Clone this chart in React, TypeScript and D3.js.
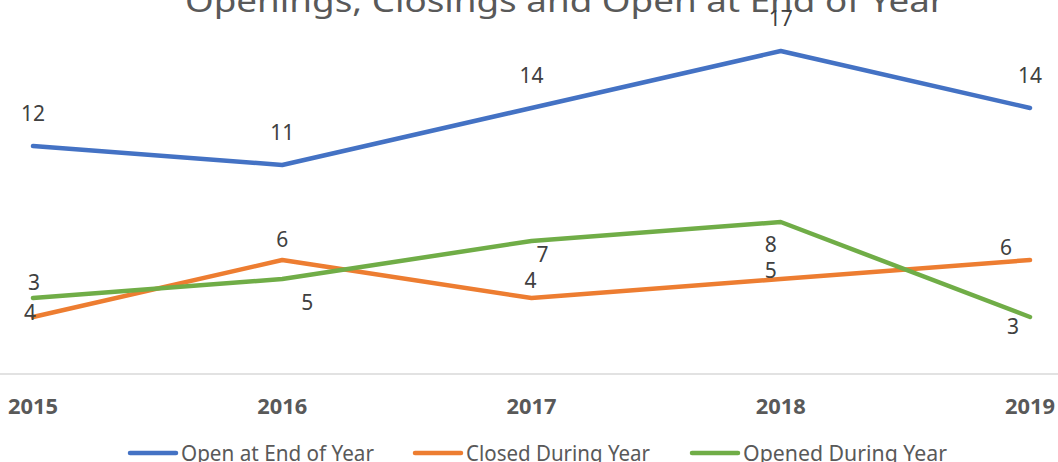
import React from "react";
import * as d3 from "d3";

const years = ["2015", "2016", "2017", "2018", "2019"];
const openAtEnd = [12, 11, 14, 17, 14];
const closedDuring = [3, 6, 4, 5, 6];
const openedDuring = [4, 5, 7, 8, 3];
const seriesNames = ["Open at End of Year", "Closed During Year", "Opened During Year"];
const colors = ["#4472C4", "#ED7D31", "#70AD47"];
const title = "Openings, Closings and Open at End of Year";

// label offsets (dx, dy) relative to each point — layout only
const labelOffsets = [
  [[0, -32], [0, -32], [0, -32], [0, -32], [0, -32]],
  [[1, -34], [0, -20], [-1, -17], [-10, -8], [-24, -12]],
  [[-3, 15], [25, 24], [11, 14], [-10, 23], [-17, 10]],
];

export default function App() {
  const W = 1058, H = 462;
  const x = d3.scalePoint<string>().domain(years).range([33, 1030]);
  const y = d3.scaleLinear().domain([0, 18]).range([374, 32]);
  const all = [openAtEnd, closedDuring, openedDuring];
  const line = d3.line<number>().x((_, i) => x(years[i])!).y((d) => y(d));
  const legendX = [128, 413, 690];
  const legendW = [193, 184, 204];
  return (
    <svg width={W} height={H} style={{ position: "absolute", left: 0, top: 0, background: "#fff" }}
      fontFamily="'Noto Sans', sans-serif">
      <text x={565} y={12} textAnchor="middle" fontSize={31} fill="#595959"
        textLength={760} lengthAdjust="spacingAndGlyphs">{title}</text>
      <line x1={0} x2={W} y1={y(0)} y2={y(0)} stroke="#d9d9d9" strokeWidth={1.5} />
      {years.map((yr) => (
        <text key={yr} x={Math.min(x(yr)!, 1031)} y={414} textAnchor="middle" fontSize={22}
          fontWeight="bold" fill="#595959" textLength={50} lengthAdjust="spacingAndGlyphs">{yr}</text>
      ))}
      {all.map((s, k) => (
        <path key={k} d={line(s)!} fill="none" stroke={colors[k]} strokeWidth={4.5}
          strokeLinecap="round" strokeLinejoin="round" />
      ))}
      {all.map((s, k) =>
        s.map((v, i) => (
          <text key={`${k}-${i}`} x={x(years[i])! + labelOffsets[k][i][0]}
            y={y(v) + labelOffsets[k][i][1]} dy="0.35em" textAnchor="middle" fontSize={21} fill="#404040">{v}</text>
        ))
      )}
      {seriesNames.map((n, k) => (
        <g key={n}>
          <line x1={legendX[k] + 2} x2={legendX[k] + 48} y1={453} y2={453} stroke={colors[k]}
            strokeWidth={4.5} strokeLinecap="round" />
          <text x={legendX[k] + 53} y={461} fontSize={21} fill="#595959"
            textLength={legendW[k]} lengthAdjust="spacingAndGlyphs">{n}</text>
        </g>
      ))}
    </svg>
  );
}
